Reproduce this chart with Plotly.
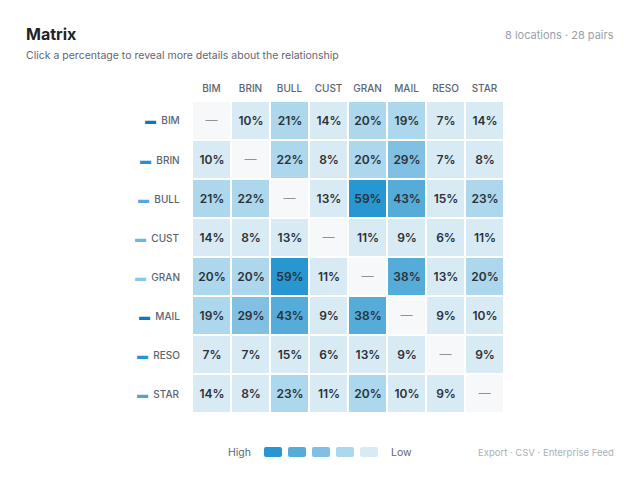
import plotly.graph_objects as go

W, H = 640, 480
OFF = 8  # page body margin

locations = ["BIM", "BRIN", "BULL", "CUST", "GRAN", "MAIL", "RESO", "STAR"]
# pairwise overlap in percent, None on the diagonal
overlap = [
    [None, 10, 21, 14, 20, 19, 7, 14],
    [10, None, 22, 8, 20, 29, 7, 8],
    [21, 22, None, 13, 59, 43, 15, 23],
    [14, 8, 13, None, 11, 9, 6, 11],
    [20, 20, 59, 11, None, 38, 13, 20],
    [19, 29, 43, 9, 38, None, 9, 10],
    [7, 7, 15, 6, 13, 9, None, 9],
    [14, 8, 23, 11, 20, 10, 9, None],
]
row_marker_colors = ["#0c79bf", "#2590cf", "#52aade", "#6cb8e3",
                     "#8bc7e8", "#0c79bf", "#2b93d1", "#4aa5db"]
bin_edges = [16, 26, 35, 50]  # level thresholds
level_colors = ["#d8ebf5", "#acd7ec", "#81c0e3", "#55acd9", "#2896d0"]
diag_color = "#f6f8fa"


def px(x):
    return (x - OFF) / W


def py(y):
    return 1 - (y - OFF) / H


def level(v):
    if v is None:
        return -1
    n = 0
    for e in bin_edges:
        if v >= e:
            n += 1
    return n


z = [[level(v) for v in row] for row in overlap]
text = [["" if v is None else f"{v}%" for v in row] for row in overlap]

# discrete colorscale: -1 diagonal, 0..4 levels
cols = [diag_color] + level_colors
scale = []
nc = len(cols)
for i, c in enumerate(cols):
    scale.append([i / nc, c])
    scale.append([(i + 1) / nc, c])

fig = go.Figure()
fig.add_trace(go.Heatmap(
    z=z, x=locations, y=locations, text=text, texttemplate="%{text}",
    textfont=dict(family="Inter", size=12, color="#2b3138", weight=600),
    colorscale=scale, zmin=-1.5, zmax=4.5, showscale=False,
    xgap=2, ygap=2, hoverinfo="skip",
))
fig.add_trace(go.Scatter(
    x=locations, y=locations, mode="text", text=["—"] * len(locations),
    textfont=dict(family="Inter", size=12, color="#8a939d"),
    hoverinfo="skip", showlegend=False,
))

fig.update_xaxes(domain=[px(192), px(504)], side="top", showgrid=False,
                 zeroline=False, showline=False, ticks="",
                 tickfont=dict(family="Inter", size=10, color="#5b6470", weight=500),
                 ticklabelstandoff=6, automargin=False, fixedrange=True)
fig.update_yaxes(domain=[py(413), py(101)], autorange="reversed",
                 showgrid=False, zeroline=False, showline=False,
                 showticklabels=False, automargin=False, fixedrange=True)

ann = []
for name, c in zip(locations, row_marker_colors):
    ann.append(dict(
        x=px(182), xref="paper", y=name, yref="y", xanchor="right",
        showarrow=False,
        text=(f"<span style='color:{c};font-family:Liberation Sans;font-size:11px'>▬</span>"
              f"  {name}"),
        font=dict(family="Inter", size=10, color="#5b6470", weight=500),
    ))

ann.append(dict(x=px(24), y=py(34), xref="paper", yref="paper", xanchor="left",
                yanchor="middle", showarrow=False, text="<b>Matrix</b>",
                font=dict(family="Inter", size=16, color="#1f2328")))
ann.append(dict(x=px(24), y=py(56), xref="paper", yref="paper", xanchor="left",
                yanchor="middle", showarrow=False,
                text="Click a percentage to reveal more details about the relationship",
                font=dict(family="Inter", size=10.5, color="#5f6670")))
ann.append(dict(x=px(616), y=py(35), xref="paper", yref="paper", xanchor="right",
                yanchor="middle", showarrow=False, text="8 locations · 28 pairs",
                font=dict(family="Inter", size=11, color="#9aa1a9")))
ann.append(dict(x=px(616), y=py(452), xref="paper", yref="paper", xanchor="right",
                yanchor="middle", showarrow=False, text="Export · CSV · Enterprise Feed",
                font=dict(family="Inter", size=9.5, color="#a9b0b8")))
ann.append(dict(x=px(253), y=py(452), xref="paper", yref="paper", xanchor="right",
                yanchor="middle", showarrow=False, text="High",
                font=dict(family="Inter", size=10.5, color="#5f6670")))
ann.append(dict(x=px(389), y=py(452), xref="paper", yref="paper", xanchor="left",
                yanchor="middle", showarrow=False, text="Low",
                font=dict(family="Inter", size=10.5, color="#5f6670")))

# legend swatches, high to low
shapes = []
for i, c in enumerate(reversed(level_colors)):
    x0 = 264 + i * 24
    x1 = x0 + 18
    y0, y1 = 447, 457
    r = 2
    path = (f"M {px(x0 + r)} {py(y0)} L {px(x1 - r)} {py(y0)} "
            f"Q {px(x1)} {py(y0)} {px(x1)} {py(y0 + r)} L {px(x1)} {py(y1 - r)} "
            f"Q {px(x1)} {py(y1)} {px(x1 - r)} {py(y1)} L {px(x0 + r)} {py(y1)} "
            f"Q {px(x0)} {py(y1)} {px(x0)} {py(y1 - r)} L {px(x0)} {py(y0 + r)} "
            f"Q {px(x0)} {py(y0)} {px(x0 + r)} {py(y0)} Z")
    shapes.append(dict(type="path", path=path, xref="paper", yref="paper",
                       fillcolor=c, line=dict(width=0)))

fig.update_layout(
    width=W, height=H, margin=dict(l=0, r=0, t=0, b=0),
    paper_bgcolor="white", plot_bgcolor="white",
    annotations=ann, shapes=shapes, showlegend=False,
    font=dict(family="Inter"),
)

fig.write_html("out.html")
